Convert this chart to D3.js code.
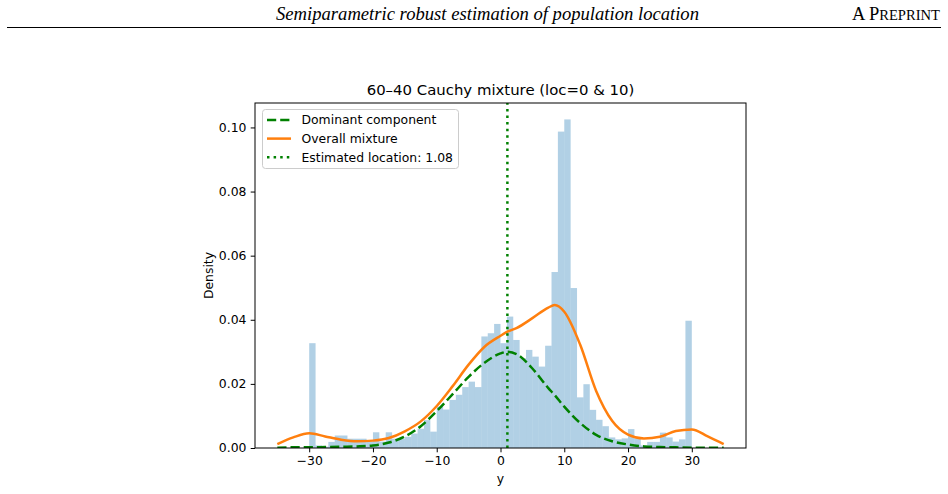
<!DOCTYPE html>
<html>
<head>
<meta charset="utf-8">
<script src="https://cdn.jsdelivr.net/npm/d3@7"></script>
<style>
  html, body { margin: 0; padding: 0; background: #fff; }
  svg { display: block; }
</style>
</head>
<body>
<svg id="chart" width="948" height="494"></svg>
<script>
// ---------- data ----------
const histBinStart = [-30,-29,-28,-27,-26,-25,-24,-23,-22,-21,-20,-19,-18,-17,-16,-15,-14,-13,-12,-11,
  -10,-9,-8,-7,-6,-5,-4,-3,-2,-1,0,1,2,3,4,5,6,7,8,9,10,11,12,13,14,15,16,17,18,19,20,21,22,23,24,25,26,27,28,29];
const histBinWidth = 1;
const histDensity = [0.0327,0.0008,0.0004,0.0019,0.0039,0.0039,0.0029,0.0029,0.0029,0.0020,
  0.0049,0.0020,0.0049,0.0029,0.0029,0.0035,0.0045,0.0060,0.0087,0.0051,
  0.0129,0.0120,0.0150,0.0166,0.0190,0.0207,0.0190,0.0348,0.0358,0.0387,
  0.0327,0.0410,0.0337,0.0280,0.0306,0.0285,0.0254,0.0319,0.0549,0.0987,
  0.1025,0.0499,0.0158,0.0199,0.0119,0.0088,0.0068,0.0033,0.0027,0.0030,
  0.0059,0.0030,0.0008,0.0019,0.0019,0.0048,0.0033,0.0020,0.0027,0.0397];

const curveX = [-35,-32.5,-30,-27.5,-25,-22.5,-20,-17.5,-15,-12.5,-10,-7.5,-5,-2.5,0,1,2.5,5,7.5,8.5,10,12.5,15,17.5,20,22.5,25,27.5,30,32.5,35];
const dominantY = [0.0001,0.0002,0.0002,0.0003,0.0004,0.0005,0.0008,0.0017,0.0036,0.0068,0.0115,0.0168,0.0222,0.0266,0.0295,0.0300,0.0293,0.0248,0.0187,0.0165,0.0129,0.0078,0.0041,0.0021,0.0011,0.0005,0.0003,0.0002,0.0001,0.0001,0.0001];
const mixtureY = [0.0012,0.0033,0.0046,0.0036,0.0026,0.0021,0.0023,0.0031,0.0052,0.0083,0.0131,0.0193,0.0260,0.0316,0.0350,0.0362,0.0374,0.0405,0.0438,0.0446,0.0425,0.0322,0.0178,0.0085,0.0042,0.0030,0.0035,0.0053,0.0058,0.0036,0.0012];

const estimatedLocation = 1.08;
const xTicks = [-30,-20,-10,0,10,20,30];
const yTicks = [0,0.02,0.04,0.06,0.08,0.10];
const legendLabels = ["Dominant component", "Overall mixture", "Estimated location: 1.08"];
const titleText = "60\u201340 Cauchy mixture (loc=0 & 10)";

// ---------- layout ----------
const svg = d3.select("#chart");
const L = 255, R = 746, T = 103, B = 448;
const FONT = "DejaVu Sans, sans-serif";

const x = d3.scaleLinear().domain([-38.5, 38.5]).range([L, R]);
const y = d3.scaleLinear().domain([0, d3.max(histDensity) * 1.05]).range([B, T]);

// page header
svg.append("text")
  .attr("x", 276).attr("y", 19.5)
  .attr("font-family", "Liberation Serif, Times New Roman, serif")
  .attr("font-style", "italic").attr("font-size", 18.5)
  .attr("textLength", 423).attr("lengthAdjust", "spacingAndGlyphs")
  .text("Semiparametric robust estimation of population location");
const pre = svg.append("text")
  .attr("x", 940).attr("y", 19.5).attr("text-anchor", "end")
  .attr("font-family", "Liberation Serif, Times New Roman, serif")
  .attr("font-size", 18.5);
pre.append("tspan").text("A P");
pre.append("tspan").attr("font-size", 14.6).text("REPRINT");
svg.append("line").attr("x1", 7).attr("x2", 941).attr("y1", 27.5).attr("y2", 27.5)
  .attr("stroke", "#000").attr("stroke-width", 1);

// clip
svg.append("clipPath").attr("id", "clip").append("rect")
  .attr("x", L).attr("y", T).attr("width", R - L).attr("height", B - T);
const plot = svg.append("g").attr("clip-path", "url(#clip)");

// histogram
plot.selectAll("rect.bar").data(histDensity).enter().append("rect")
  .attr("class", "bar")
  .attr("x", (d, i) => x(histBinStart[i]))
  .attr("width", (d, i) => x(histBinStart[i] + histBinWidth) - x(histBinStart[i]))
  .attr("y", d => y(d))
  .attr("height", d => y(0) - y(d))
  .attr("fill", "#1f77b4").attr("fill-opacity", 0.35);

// curves
const pts = ys => curveX.map((v, i) => [v, ys[i]]);
const line = d3.line().x(d => x(d[0])).y(d => y(d[1])).curve(d3.curveMonotoneX);

plot.append("path").datum(pts(mixtureY)).attr("d", line)
  .attr("fill", "none").attr("stroke", "#ff7f0e").attr("stroke-width", 2.5)
  .attr("stroke-linejoin", "round");
plot.append("path").datum(pts(dominantY)).attr("d", line)
  .attr("fill", "none").attr("stroke", "#008000").attr("stroke-width", 2.5)
  .attr("stroke-dasharray", "9.2,4");

// vertical estimated location
plot.append("line")
  .attr("x1", x(estimatedLocation)).attr("x2", x(estimatedLocation))
  .attr("y1", B).attr("y2", T)
  .attr("stroke", "#008000").attr("stroke-width", 2.5)
  .attr("stroke-dasharray", "2.5,4.1");

// axes
const xAxis = svg.append("g").attr("transform", `translate(0,${B})`)
  .call(d3.axisBottom(x).tickValues(xTicks).tickSize(4.3).tickPadding(4.3).tickSizeOuter(0));
const yAxis = svg.append("g").attr("transform", `translate(${L},0)`)
  .call(d3.axisLeft(y).tickValues(yTicks).tickFormat(d3.format(".2f")).tickSize(4.3).tickPadding(4.3).tickSizeOuter(0));
[xAxis, yAxis].forEach(g => {
  g.select(".domain").remove();
  g.selectAll("text").attr("font-family", FONT).attr("font-size", 12.4).attr("fill", "#000");
  g.selectAll("line").attr("stroke", "#000").attr("stroke-width", 1);
});

// frame
svg.append("rect").attr("x", L).attr("y", T).attr("width", R - L).attr("height", B - T)
  .attr("fill", "none").attr("stroke", "#000").attr("stroke-width", 1);

// labels
svg.append("text").attr("x", (L + R) / 2).attr("y", 95).attr("text-anchor", "middle")
  .attr("font-family", FONT).attr("font-size", 14.9).text(titleText);
svg.append("text").attr("x", (L + R) / 2).attr("y", 483).attr("text-anchor", "middle")
  .attr("font-family", FONT).attr("font-size", 12.4).text("y");
svg.append("text").attr("transform", `translate(212.5,${(T + B) / 2}) rotate(-90)`)
  .attr("text-anchor", "middle").attr("font-family", FONT).attr("font-size", 12.4).text("Density");

// legend
const lg = svg.append("g");
lg.append("rect").attr("x", 262.5).attr("y", 109.5).attr("width", 196).attr("height", 59).attr("rx", 3)
  .attr("fill", "#fff").attr("fill-opacity", 0.8).attr("stroke", "#cccccc").attr("stroke-width", 1);
const legendStyles = [
  { color: "#008000", dash: "9.2,4" },
  { color: "#ff7f0e", dash: null },
  { color: "#008000", dash: "2.5,4.1" }
];
legendLabels.forEach((lab, i) => {
  const cy = 120 + i * 18.6;
  const l = lg.append("line").attr("x1", 267).attr("x2", 291).attr("y1", cy).attr("y2", cy)
    .attr("stroke", legendStyles[i].color).attr("stroke-width", 2.5);
  if (legendStyles[i].dash) l.attr("stroke-dasharray", legendStyles[i].dash);
  lg.append("text").attr("x", 301.5).attr("y", cy).attr("dy", "0.35em")
    .attr("font-family", FONT).attr("font-size", 12.4).text(lab);
});
</script>
</body>
</html>
